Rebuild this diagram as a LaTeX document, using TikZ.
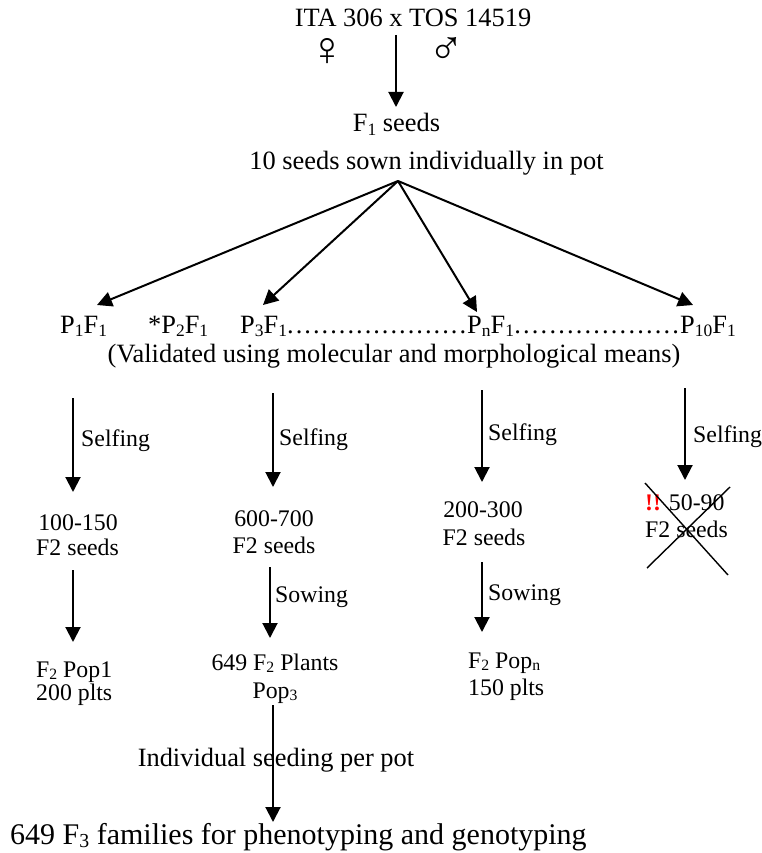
\documentclass[tikz,border=0pt]{standalone}
\usepackage{fontspec}
\setmainfont{Liberation Serif}
\usetikzlibrary{arrows.meta}
\newcommand\sbs[1]{\raisebox{-0.12em}{\scalebox{0.66}{#1}}}
\newcommand\dotrow[1]{\hbox to #1{\xleaders\hbox to 8.6pt{\hss.\hss}\hfill}}
\begin{document}
\begin{tikzpicture}[x=1pt,y=-1pt,
  arr/.style={line width=2pt,-{Triangle[length=15pt,width=15pt]}},
  main/.style={font=\fontsize{26.4}{30}\selectfont, inner sep=0pt, anchor=base},
  small/.style={font=\fontsize{23.8}{27}\selectfont, inner sep=0pt, anchor=base},
  big/.style={font=\fontsize{30}{34}\selectfont, inner sep=0pt, anchor=base},
  sym/.style={font=\fontsize{48}{52}\selectfont, inner sep=0pt},
  crossline/.style={line width=1.4pt}]
\useasboundingbox (0,0) rectangle (761,853);

% top
\node[main] (title) at (413,27) {ITA 306 x TOS 14519};
\node[sym] (fem) at (327,52) {♀};
\node[sym] (male) at (446,51) {♂};
\coordinate (a0s) at (396,35);
\coordinate (a0t) at (396,107);
\draw[arr] (a0s) -- (a0t);
\node[main] (f1) at (396.5,132) {F\sbs{1} seeds};
\node[main] (sown) at (426.5,170) {10 seeds sown individually in pot};

% fan
\coordinate (apex) at (398,181);
\coordinate (t1) at (97,305);
\coordinate (t3) at (263,305);
\coordinate (tn) at (477,312);
\coordinate (t10) at (693,305);
\draw[arr] (apex) -- (t1);
\draw[arr] (apex) -- (t3);
\draw[arr] (apex) -- (tn);
\draw[arr] (apex) -- (t10);

% row of plants
\node[main,anchor=base west] (p1) at (60,333) {P\sbs{1}F\sbs{1}};
\node[main,anchor=base west] (p2) at (148,333) {*P\sbs{2}F\sbs{1}};
\node[main,anchor=base west] (p3) at (240,333) {P\sbs{3}F\sbs{1}};
\node[main,anchor=base west] (dots1) at (286,333) {\dotrow{181pt}};
\node[main,anchor=base west] (pn) at (467,333) {P\sbs{n}F\sbs{1}};
\node[main,anchor=base west] (dots2) at (513,333) {\dotrow{167pt}};
\node[main,anchor=base west] (p10) at (680,333) {P\sbs{10}F\sbs{1}};
\node[main] (val) at (394,362) {(Validated using molecular and morphological means)};

% column 1
\coordinate (c1a) at (73,398);
\coordinate (c1b) at (73,492);
\draw[arr] (c1a) -- (c1b);
\node[small,anchor=base west] (self1) at (81,446) {Selfing};
\node[small] (n1a) at (78,530) {100-150};
\node[small] (n1b) at (77.5,555) {F2 seeds};
\coordinate (c1c) at (73,570);
\coordinate (c1d) at (73,642);
\draw[arr] (c1c) -- (c1d);
\node[small,anchor=base west] (pop1a) at (36,677) {F\sbs{2} Pop1};
\node[small,anchor=base west] (pop1b) at (36,700) {200 plts};

% column 2
\coordinate (c2a) at (273,393);
\coordinate (c2b) at (273,487);
\draw[arr] (c2a) -- (c2b);
\node[small,anchor=base west] (self2) at (279,445) {Selfing};
\node[small] (n2a) at (274,526) {600-700};
\node[small] (n2b) at (274,553) {F2 seeds};
\coordinate (c2c) at (270,567);
\coordinate (c2d) at (270,638);
\draw[arr] (c2c) -- (c2d);
\node[small,anchor=base west] (sow2) at (275,602) {Sowing};
\node[small] (pl2a) at (275,670) {649 F\sbs{2} Plants};
\node[small] (pl2b) at (275,698) {Pop\sbs{3}};
\coordinate (c2e) at (273,705);
\coordinate (c2f) at (273,822);
\node[main] (indiv) at (276,766) {Individual seeding per pot};
\draw[arr] (c2e) -- (c2f);
\node[big,anchor=base west] (f3) at (10,844) {649 F\sbs{3} families for phenotyping and genotyping};

% column 3
\coordinate (c3a) at (482,390);
\coordinate (c3b) at (482,482);
\draw[arr] (c3a) -- (c3b);
\node[small,anchor=base west] (self3) at (488,440) {Selfing};
\node[small] (n3a) at (483,517) {200-300};
\node[small] (n3b) at (484,545) {F2 seeds};
\coordinate (c3c) at (482,562);
\coordinate (c3d) at (482,632);
\draw[arr] (c3c) -- (c3d);
\node[small,anchor=base west] (sow3) at (488,600) {Sowing};
\node[small,anchor=base west] (pop3a) at (468,668) {F\sbs{2} Pop\sbs{n}};
\node[small,anchor=base west] (pop3b) at (468,695) {150 plts};

% column 4
\coordinate (c4a) at (685,388);
\coordinate (c4b) at (685,480);
\draw[arr] (c4a) -- (c4b);
\node[small,anchor=base west] (self4) at (693,442) {Selfing};
\node[small,anchor=base west] (n4a) at (645,510) {\textcolor{red}{\textbf{!!}} 50-90};
\node[small,anchor=base west] (n4b) at (645,537) {F2 seeds};
\coordinate (x1) at (645,483);
\coordinate (x2) at (728,575);
\coordinate (x3) at (730,487);
\coordinate (x4) at (647,568);
\draw[crossline] (x1) -- (x2);
\draw[crossline] (x3) -- (x4);
\end{tikzpicture}
\end{document}
